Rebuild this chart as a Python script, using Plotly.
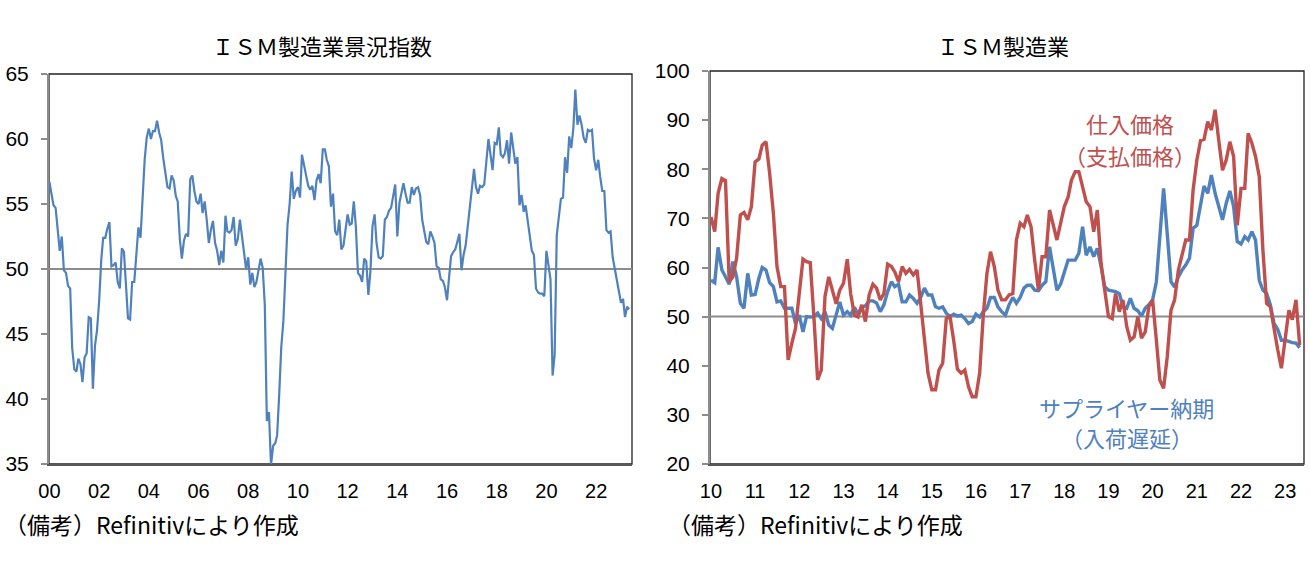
import pandas as pd
import plotly.graph_objects as go

# ---------------- data ----------------
# ISM manufacturing PMI, monthly from 2000-01
pmi = [
    56.7, 55.8, 54.9, 54.7, 53.2, 51.4, 52.5, 49.9, 49.7, 48.7, 48.5, 43.9,
    42.3, 42.1, 43.1, 42.7, 41.3, 43.2, 43.5, 46.3, 46.2, 40.8, 44.1, 45.3,
    47.5, 50.7, 52.4, 52.4, 53.1, 53.6, 50.2, 50.3, 50.5, 49.0, 48.5, 51.6,
    51.3, 48.8, 46.2, 46.1, 49.0, 49.0, 51.0, 53.2, 52.4, 55.2, 58.4, 60.1,
    60.8, 60.0, 60.6, 60.6, 61.4, 60.5, 59.9, 58.5, 57.4, 56.3, 56.2, 57.2,
    56.8, 55.6, 55.2, 52.3, 50.8, 52.2, 52.7, 52.5, 56.9, 57.2, 56.0, 55.2,
    55.0, 55.8, 54.3, 55.2, 53.8, 52.0, 53.0, 53.7, 52.0, 51.4, 50.3, 51.4,
    50.5, 54.1, 52.9, 52.8, 53.0, 54.0, 51.8, 52.3, 53.8, 52.6, 51.3, 50.0,
    50.9, 48.8, 49.7, 48.6, 49.0, 50.0, 50.8, 50.1, 47.2, 38.3, 39.0, 34.9,
    36.4, 36.6, 37.2, 40.4, 44.0, 46.0, 49.3, 53.4, 55.0, 57.5, 55.4, 56.0,
    56.3, 55.5, 58.8, 58.1, 57.2, 56.4, 56.1, 56.4, 55.3, 56.8, 57.3, 56.6,
    59.2, 59.2, 58.4, 57.9, 54.8, 55.8, 52.9, 52.6, 53.8, 51.5, 51.8, 53.0,
    54.2, 53.4, 53.5, 55.2, 53.3, 49.7, 49.5, 49.0, 50.8, 50.6, 48.0, 49.8,
    53.3, 54.2, 52.0, 50.9, 50.8, 51.0, 53.8, 54.0, 54.5, 54.7, 55.6, 56.5,
    52.5, 55.1, 55.8, 56.6, 55.8, 55.1, 55.1, 56.3, 55.7, 56.2, 56.3, 55.7,
    53.8, 52.9, 52.1, 51.9, 52.9, 52.5, 52.0, 50.2, 50.1, 49.2, 49.1, 48.6,
    47.6, 49.4, 51.0, 51.3, 51.5, 52.1, 52.7, 49.9, 51.1, 51.8, 53.3, 54.3,
    55.8, 57.7, 56.3, 55.8, 56.4, 56.3, 56.5, 58.5, 60.0, 58.8, 57.6, 59.7,
    59.6, 60.9, 58.8, 58.6, 58.9, 59.9, 58.1, 60.5, 59.4, 58.1, 58.6, 54.9,
    55.7, 54.4, 54.9, 53.6, 52.5, 51.4, 51.1, 48.5, 48.2, 48.1, 48.1, 47.9,
    51.4, 50.4, 49.2, 41.8, 43.4, 52.6, 53.9, 55.4, 55.5, 58.6, 57.4, 60.2,
    59.3, 60.9, 63.8, 61.1, 61.8, 61.1, 60.1, 59.7, 60.7, 60.6, 60.7, 58.5,
    57.6, 58.4, 57.1, 56.0, 56.0, 53.0, 52.8, 52.9, 50.9, 50.1, 49.0, 48.4,
    47.4, 47.7, 46.3, 47.1, 46.9,
]

# ISM prices paid and supplier deliveries, monthly from 2010-01
prices = [
    70.3, 67.3, 75.1, 78.1, 77.7, 57.1, 58.1, 61.9, 70.7, 71.2, 69.7, 72.4,
    81.5, 82.1, 84.9, 85.6, 79.2, 71.0, 60.2, 56.1, 56.1, 41.2, 44.6, 47.6,
    54.7, 61.7, 61.2, 61.0, 50.0, 37.1, 39.1, 54.1, 58.1, 55.4, 52.6, 55.4,
    56.8, 61.7, 54.7, 50.3, 49.9, 52.4, 49.0, 54.4, 56.6, 55.8, 53.4, 54.7,
    60.7, 60.2, 59.1, 57.1, 60.2, 58.8, 59.6, 58.5, 59.5, 52.7, 44.6, 38.5,
    35.1, 35.1, 39.1, 40.5, 49.6, 50.0, 45.2, 39.3, 38.5, 39.1, 35.7, 33.7,
    33.7, 38.5, 50.0, 58.8, 63.2, 60.2, 55.4, 53.4, 53.4, 54.4, 54.7, 65.6,
    69.0, 68.3, 70.7, 68.3, 61.5, 55.4, 62.2, 62.2, 71.7, 69.0, 65.6, 69.0,
    72.4, 74.3, 77.8, 79.5, 79.5, 76.4, 73.4, 72.4, 67.3, 71.7, 60.8, 55.4,
    50.0, 49.6, 54.7, 51.0, 53.4, 48.0, 45.2, 45.9, 50.0, 45.6, 46.9, 52.0,
    53.4, 45.2, 37.1, 35.4, 41.8, 51.3, 53.4, 59.5, 62.9, 65.6, 65.6, 75.8,
    81.9, 85.9, 86.1, 89.7, 88.0, 92.1, 85.9, 79.8, 81.9, 85.6, 82.6, 68.6,
    76.1, 76.1, 87.3, 85.3, 82.6, 78.5, 63.6, 52.7, 52.0, 47.3, 43.2, 39.5,
    45.2, 51.3, 49.4, 53.4, 44.2,
]
deliveries = [
    57.4, 56.9, 64.1, 59.5, 58.1, 56.6, 61.2, 58.1, 52.7, 51.7, 58.8, 54.4,
    54.5, 57.8, 60.0, 59.5, 56.9, 56.1, 53.0, 53.2, 51.7, 51.7, 51.7, 48.6,
    50.3, 46.9, 50.0, 49.9, 50.0, 50.7, 49.6, 51.0, 48.3, 47.6, 50.3, 53.0,
    50.3, 51.0, 50.3, 51.9, 50.5, 51.9, 52.2, 53.2, 53.2, 52.8, 51.0, 52.4,
    55.1, 57.1, 56.1, 56.6, 53.0, 53.0, 54.4, 53.7, 52.7, 53.9, 55.8, 54.4,
    54.4, 52.0, 51.7, 52.0, 50.7, 50.0, 50.5, 50.1, 50.3, 49.6, 48.6, 49.0,
    50.5, 49.9, 51.0, 51.7, 53.9, 53.9, 52.0, 51.0, 50.3, 52.4, 53.9, 52.7,
    53.9, 55.8, 56.4, 56.4, 55.4, 55.3, 56.4, 57.1, 64.2, 60.2, 55.4, 56.6,
    59.1, 61.5, 61.5, 61.5, 62.9, 68.3, 62.5, 64.2, 62.2, 63.9, 60.2, 56.1,
    55.4, 55.3, 55.1, 54.7, 52.0, 51.7, 53.7, 51.7, 51.2, 50.1, 51.7, 52.4,
    53.4, 57.1, 66.9, 76.1, 66.9, 57.1, 56.0, 58.1, 59.5, 60.5, 61.9, 68.0,
    68.6, 73.1, 76.6, 75.1, 78.8, 75.1, 72.4, 69.7, 73.1, 75.6, 72.4, 65.3,
    64.8, 66.3, 65.6, 67.3, 65.6, 57.4, 55.4, 54.7, 52.4, 48.6, 47.4, 45.2,
    45.2, 44.9, 44.7, 44.6, 43.7,
]

left_ticks = ["00", "02", "04", "06", "08", "10", "12", "14", "16", "18", "20", "22"]
right_ticks = ["10", "11", "12", "13", "14", "15", "16", "17", "18", "19", "20", "21", "22", "23"]

dates_left = pd.date_range("2000-01-01", periods=len(pmi), freq="MS")
dates_right = pd.date_range("2010-01-01", periods=len(prices), freq="MS")
left_tickvals = pd.date_range("2000-01-01", periods=len(left_ticks), freq="24MS")
right_tickvals = pd.date_range("2010-01-01", periods=len(right_ticks), freq="12MS")

# ---------------- style ----------------
W, H = 1310, 572
BLUE = "#4F81BD"
RED = "#C0504D"
JP = "Noto Sans CJK JP"
NUM = "Liberation Sans, Arial, sans-serif"
NARROW = "Liberation Sans Narrow, Liberation Sans, sans-serif"


def px_x(px):
    return px / W


def px_y(py):
    return 1 - py / H


fig = go.Figure()
fig.add_trace(go.Scatter(x=dates_left, y=pmi, mode="lines",
                         line=dict(color=BLUE, width=2.2),
                         xaxis="x", yaxis="y", showlegend=False))
fig.add_trace(go.Scatter(x=dates_right, y=deliveries, mode="lines",
                         line=dict(color=BLUE, width=3.4),
                         xaxis="x2", yaxis="y2", showlegend=False))
fig.add_trace(go.Scatter(x=dates_right, y=prices, mode="lines",
                         line=dict(color=RED, width=3.4),
                         xaxis="x2", yaxis="y2", showlegend=False))

xcommon = dict(showgrid=False, zeroline=False, showline=True, linecolor="#595959",
               linewidth=2, ticks="", ticklabelstandoff=8, automargin=False,
               tickfont=dict(family=NARROW, size=20, color="#000"))
ycommon = dict(showgrid=False, zeroline=False, showline=True, linecolor="#8c8c8c",
               linewidth=2, ticks="outside", ticklen=6, tickwidth=2,
               tickcolor="#8c8c8c", ticklabelstandoff=8, automargin=False,
               tickfont=dict(family=NUM, size=21, color="#000"))

fig.update_layout(
    width=W, height=H,
    margin=dict(l=0, r=0, t=0, b=0, autoexpand=False),
    paper_bgcolor="white", plot_bgcolor="white",
    xaxis=dict(domain=[px_x(49), px_x(632)], anchor="y",
               range=["1999-12-26", "2023-06-12"],
               tickvals=left_tickvals, ticktext=left_ticks, **xcommon),
    yaxis=dict(domain=[px_y(464), px_y(74)], anchor="x",
               range=[35, 65], tickvals=[35, 40, 45, 50, 55, 60, 65], **ycommon),
    xaxis2=dict(domain=[px_x(710), px_x(1304)], anchor="y2",
                range=["2009-12-24", "2023-06-06"],
                tickvals=right_tickvals, ticktext=right_ticks, **xcommon),
    yaxis2=dict(domain=[px_y(464), px_y(71)], anchor="x2",
                range=[20, 100], tickvals=[20, 30, 40, 50, 60, 70, 80, 90, 100], **ycommon),
)

# frames and 50 lines
fig.add_shape(type="rect", xref="x domain", yref="y domain", x0=0, x1=1, y0=0, y1=1,
              line=dict(color="#222", width=1.3), layer="below")
fig.add_shape(type="rect", xref="x2 domain", yref="y2 domain", x0=0, x1=1, y0=0, y1=1,
              line=dict(color="#222", width=1.3), layer="below")
fig.add_shape(type="line", xref="x domain", yref="y", x0=0, x1=1, y0=50, y1=50,
              line=dict(color="#8c8c8c", width=2), layer="below")
fig.add_shape(type="line", xref="x2 domain", yref="y2", x0=0, x1=1, y0=50, y1=50,
              line=dict(color="#8c8c8c", width=2), layer="below")

# titles
fig.add_annotation(text="ＩＳＭ製造業景況指数", xref="paper", yref="paper",
                   x=px_x(322), y=px_y(45), xanchor="center", yanchor="middle",
                   showarrow=False, font=dict(family=JP, size=22, color="#000"))
fig.add_annotation(text="ＩＳＭ製造業", xref="paper", yref="paper",
                   x=px_x(1003), y=px_y(45), xanchor="center", yanchor="middle",
                   showarrow=False, font=dict(family=JP, size=22, color="#000"))

# series labels (right chart), one line per annotation
labels = [
    ("仕入価格", "2019-07-01", 89.4, RED),
    ("（支払価格）", "2019-07-01", 82.9, RED),
    ("サプライヤー納期", "2019-06-01", 31.6, BLUE),
    ("（入荷遅延）", "2019-06-01", 25.5, BLUE),
]
for txt, xd, yv, col in labels:
    fig.add_annotation(text=txt, xref="x2", yref="y2", x=xd, y=yv,
                       xanchor="center", yanchor="middle", showarrow=False,
                       font=dict(family=JP, size=22, color=col))

# footnotes
for xpx in (2, 666):
    fig.add_annotation(text="（備考）Refinitivにより作成", xref="paper", yref="paper",
                       x=px_x(xpx), y=px_y(524), xanchor="left", yanchor="middle",
                       showarrow=False, font=dict(family=JP, size=23, color="#000"))

fig.write_html("out.html")
